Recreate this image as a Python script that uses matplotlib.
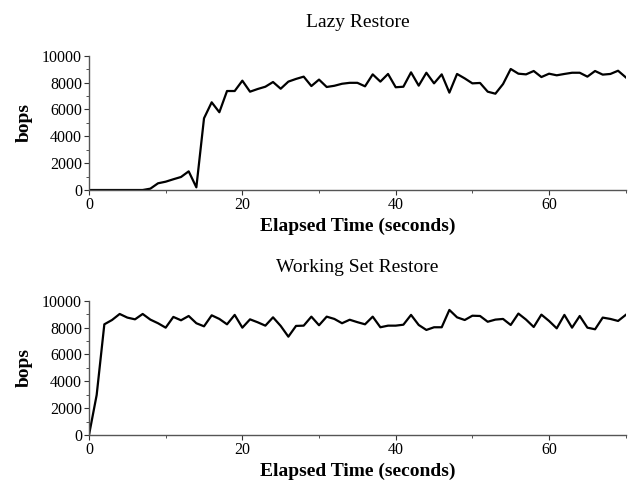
import matplotlib
matplotlib.use("Agg")
import matplotlib.pyplot as plt
from matplotlib.ticker import MultipleLocator

plt.rcParams['font.family'] = ['Liberation Serif', 'DejaVu Serif']

time_s = list(range(0, 71))

lazy_bops = [0, 0, 0, 0, 0, 0, 0, 0, 100, 500, 620, 800, 970, 1390, 200,
             5340, 6530, 5790, 7370, 7370, 8140, 7320, 7520, 7690, 8040, 7540,
             8070, 8270, 8440, 7740, 8220, 7670, 7760, 7910, 7980, 7980, 7720,
             8610, 8070, 8640, 7650, 7690, 8760, 7770, 8730, 7940, 8610, 7250,
             8640, 8310, 7940, 7970, 7320, 7170, 7890, 9010, 8660, 8610, 8860,
             8410, 8660, 8540, 8640, 8730, 8730, 8440, 8860, 8590, 8640, 8880,
             8390]

ws_bops = [0, 2980, 8240, 8560, 9010, 8740, 8610, 9010, 8590, 8320, 7990,
           8790, 8540, 8860, 8320, 8090, 8910, 8640, 8240, 8940, 7990, 8610,
           8390, 8140, 8760, 8120, 7320, 8120, 8140, 8810, 8170, 8810, 8640,
           8320, 8580, 8400, 8240, 8810, 8020, 8140, 8140, 8210, 8940, 8190,
           7820, 8020, 8020, 9310, 8760, 8560, 8880, 8860, 8430, 8590, 8640,
           8190, 9040, 8590, 8040, 8960, 8490, 7940, 8940, 7990, 8860, 7990,
           7870, 8740, 8640, 8490, 8940]

titles = ["Lazy Restore", "Working Set Restore"]
series = [lazy_bops, ws_bops]
xlabel = "Elapsed Time (seconds)"
ylabel = "bops"

fig = plt.figure(figsize=(6.29, 4.83), dpi=100)
rects = [[0.1415, 0.6066, 0.8533, 0.2781], [0.1415, 0.0994, 0.8533, 0.2781]]

for rect, title, vals in zip(rects, titles, series):
    ax = fig.add_axes(rect)
    ax.plot(time_s, vals, color='black', lw=1.6)
    ax.set_xlim(0, 70)
    ax.set_ylim(0, 10000)
    ax.xaxis.set_major_locator(MultipleLocator(20))
    ax.xaxis.set_minor_locator(MultipleLocator(10))
    ax.yaxis.set_major_locator(MultipleLocator(2000))
    ax.yaxis.set_minor_locator(MultipleLocator(1000))
    for s in ['top', 'right']:
        ax.spines[s].set_visible(False)
    for s in ['left', 'bottom']:
        ax.spines[s].set_color('#555555')
        ax.spines[s].set_linewidth(1.0)
    ax.tick_params(which='major', direction='out', length=3.5, width=0.8,
                   labelsize=11.5, pad=1.5, color='#333333')
    ax.tick_params(which='minor', direction='out', length=2, width=0.6,
                   color='#333333')
    ax.set_title(title, fontsize=14, pad=21)
    ax.set_xlabel(xlabel, fontsize=14, fontweight='bold', labelpad=3.5)
    ax.set_ylabel(ylabel, fontsize=14, fontweight='bold', labelpad=7)

fig.savefig("out.png", dpi=100)
